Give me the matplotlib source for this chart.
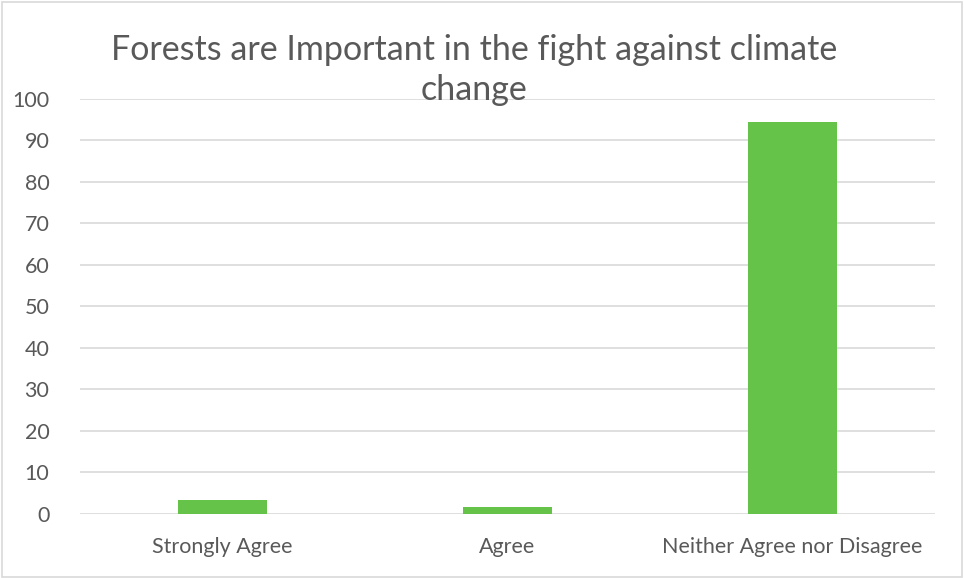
import matplotlib.pyplot as plt
from matplotlib.patches import Rectangle

categories = ['Strongly Agree', 'Agree', 'Neither Agree nor Disagree']
values = [3.4, 1.7, 94.4]
yticks = list(range(0, 101, 10))

plt.rcParams['font.family'] = ['Lato', 'DejaVu Sans']
text_color = '#595959'

fig = plt.figure(figsize=(9.64, 5.78), dpi=100)
ax = fig.add_axes([0.083, 0.111, 0.887, 0.718])

x = range(len(categories))
ax.bar(x, values, width=0.31, color='#66c34a', zorder=3)

ax.set_xlim(-0.5, len(categories) - 0.5)
ax.set_ylim(0, 100)
ax.set_yticks(yticks)
ax.set_xticks(list(x))
ax.set_xticklabels(categories)
ax.tick_params(axis='both', length=0, labelsize=15.5, colors=text_color)
ax.tick_params(axis='x', pad=17)
ax.tick_params(axis='y', pad=22)
ax.grid(axis='y', color='#d9d9d9', linewidth=1.2, zorder=0)
for s in ax.spines.values():
    s.set_visible(False)

fig.text(0.492, 0.879, 'Forests are Important in the fight against climate\nchange',
         ha='center', va='center', fontsize=24.5, color=text_color, linespacing=1.3)

# chart border
fig.patches.append(Rectangle((0.002, 0.002), 0.996, 0.994, transform=fig.transFigure,
                             fill=False, edgecolor='#d9d9d9', linewidth=1.2))

fig.savefig('out.png', dpi=100)
